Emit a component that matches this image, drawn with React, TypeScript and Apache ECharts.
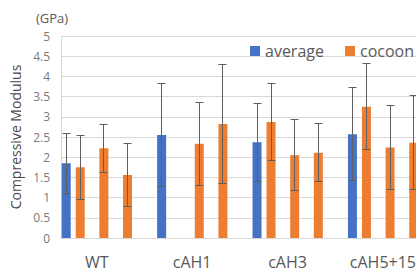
import React, { useEffect, useRef } from "react";
import * as echarts from "echarts";

const categories = ["WT", "cAH1", "cAH3", "cAH5+15"];
const averageValues = [1.85, 2.55, 2.37, 2.57];
const averageErrors = [0.74, 1.27, 0.97, 1.15];
const cocoon1Values = [1.75, null, 2.87, 3.25];
const cocoon1Errors = [0.79, null, 0.96, 1.06];
const cocoon2Values = [2.22, 2.33, 2.05, 2.24];
const cocoon2Errors = [0.59, 1.03, 0.88, 1.03];
const cocoon3Values = [1.56, 2.82, 2.11, 2.36];
const cocoon3Errors = [0.77, 1.48, 0.72, 1.16];
const cocoon4Values = [null, null, null, null];
const yMin = 0;
const yMax = 5;
const yStep = 0.5;

const BLUE = "#4472C4";
const ORANGE = "#ED7D31";
const GRID = "#d9d9d9";
const TEXT = "#595959";
const FONT = "Open Sans";

const BAR_W = 9;
const SPACER_W = 6.2;
const GAP = 5 / 9;

type Slot = { name: string; w: number; values: (number | null)[] | null; errors: (number | null)[] | null; color: string };

const slots: Slot[] = [
  { name: "average", w: BAR_W, values: averageValues, errors: averageErrors, color: BLUE },
  { name: "cocoon", w: BAR_W, values: cocoon1Values, errors: cocoon1Errors, color: ORANGE },
  { name: "_sp1", w: SPACER_W, values: null, errors: null, color: "transparent" },
  { name: "cocoon", w: BAR_W, values: cocoon2Values, errors: cocoon2Errors, color: ORANGE },
  { name: "_sp2", w: SPACER_W, values: null, errors: null, color: "transparent" },
  { name: "cocoon", w: BAR_W, values: cocoon3Values, errors: cocoon3Errors, color: ORANGE },
  { name: "_sp3", w: SPACER_W, values: null, errors: null, color: "transparent" },
  { name: "cocoon", w: BAR_W, values: cocoon4Values, errors: null, color: ORANGE },
];

function slotOffsets(): number[] {
  let sum = 0;
  slots.forEach((s) => (sum += s.w * (1 + GAP)));
  sum -= slots[slots.length - 1].w * GAP;
  let off = -sum / 2;
  const res: number[] = [];
  slots.forEach((s) => {
    res.push(off + s.w / 2);
    off += s.w * (1 + GAP);
  });
  return res;
}

export default function App() {
  const ref = useRef<HTMLDivElement>(null);
  useEffect(() => {
    if (!ref.current) return;
    const chart = echarts.init(ref.current, undefined, { renderer: "svg" });
    const offsets = slotOffsets();
    const series: any[] = [];
    slots.forEach((s) => {
      series.push({
        type: "bar",
        name: s.name,
        barWidth: s.w,
        barGap: `${GAP * 100}%`,
        itemStyle: { color: s.color },
        silent: true,
        data: s.values ? s.values.map((v) => (v == null ? "-" : v)) : categories.map(() => "-"),
      });
    });
    slots.forEach((s, si) => {
      if (!s.values || !s.errors) return;
      const data: number[][] = [];
      s.values.forEach((v, i) => {
        const e = s.errors![i];
        if (v != null && e != null) data.push([i, v, e]);
      });
      const off = offsets[si];
      series.push({
        type: "custom",
        name: "_err" + si,
        silent: true,
        z: 5,
        data,
        renderItem: (_p: any, api: any) => {
          const x = api.value(0);
          const v = api.value(1);
          const e = api.value(2);
          const top = api.coord([x, v + e]);
          const bot = api.coord([x, v - e]);
          const cx = Math.round(top[0] + off - 0.5) + 0.5;
          const ty = Math.round(top[1] - 0.5) + 0.5;
          const by = Math.round(bot[1] - 0.5) + 0.5;
          const st = { stroke: "#5f5f5f", lineWidth: 1 };
          return {
            type: "group",
            children: [
              { type: "line", shape: { x1: cx, y1: ty, x2: cx, y2: by }, style: st },
              { type: "line", shape: { x1: cx - 4, y1: ty, x2: cx + 4, y2: ty }, style: st },
              { type: "line", shape: { x1: cx - 4, y1: by, x2: cx + 4, y2: by }, style: st },
            ],
          };
        },
      });
    });
    chart.setOption({
      animation: false,
      textStyle: { fontFamily: FONT },
      grid: { left: 61, top: 36, right: 27.4, bottom: 34, outerBoundsMode: "none", containLabel: false },
      legend: {
        data: ["average", "cocoon"],
        left: 245,
        top: 38,
        icon: "rect",
        itemWidth: 10,
        itemHeight: 10,
        itemGap: 21,
        textStyle: { fontSize: 16, color: TEXT, fontFamily: FONT },
        selectedMode: false,
      },
      graphic: [
        {
          type: "text",
          left: 36,
          top: 11,
          style: { text: "(GPa)", fontSize: 13, fill: TEXT, fontFamily: FONT },
        },
      ],
      xAxis: {
        type: "category",
        data: categories,
        axisLine: { lineStyle: { color: GRID } },
        axisTick: { show: false },
        axisLabel: { fontSize: 16, color: TEXT, fontFamily: FONT, margin: 16, padding: [0, 24, 0, 0] },
      },
      yAxis: {
        type: "value",
        min: yMin,
        max: yMax,
        interval: yStep,
        name: "Compressive Modulus",
        nameLocation: "middle",
        nameGap: 32,
        nameTextStyle: { fontSize: 14, color: "#4a4a4a", fontFamily: FONT },
        axisLine: { show: true, lineStyle: { color: GRID } },
        axisTick: { show: false },
        splitLine: { lineStyle: { color: GRID } },
        axisLabel: { fontSize: 12, color: "#7a7a7a", fontFamily: FONT, margin: 11 },
      },
      series,
    });
    return () => chart.dispose();
  }, []);
  return (
    <div style={{ position: "fixed", left: 0, top: 0, width: 416, height: 272, overflow: "hidden", background: "#fff" }}>
      <div ref={ref} style={{ width: 470, height: 272 }} />
    </div>
  );
}
